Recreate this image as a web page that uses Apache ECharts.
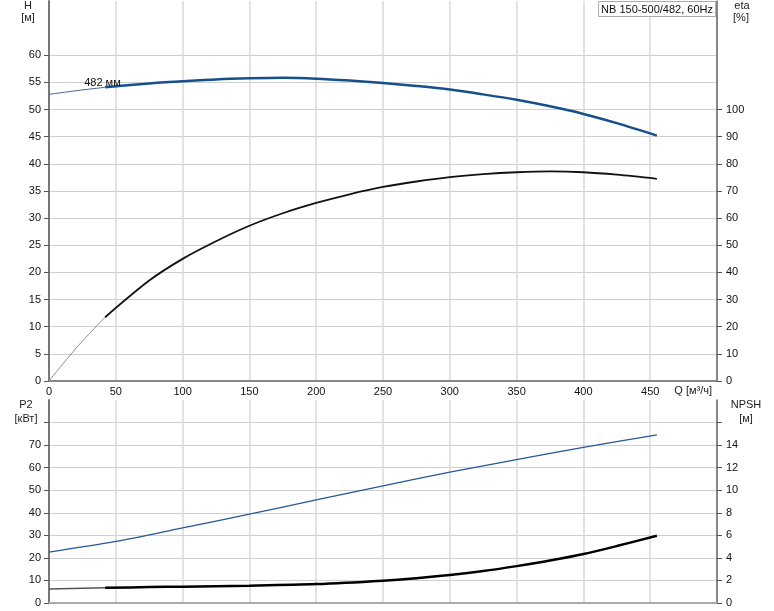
<!DOCTYPE html>
<html>
<head>
<meta charset="utf-8">
<script src="https://cdn.jsdelivr.net/npm/echarts@6/dist/echarts.min.js"></script>
<style>
html,body{margin:0;padding:0;background:#fff;}
#chart{width:774px;height:611px;}
</style>
</head>
<body>
<div id="chart"></div>
<script>
// ---- data ----
const title = 'NB 150-500/482, 60Hz';
const curveLabel = '482 мм';
// H curve [Q, H] (thin = extrapolated start, thick = operating range)
const hThinQ = [0, 21, 42];
const hThinV = [52.8, 53.5, 54.1];
const hQ = [42, 75, 100, 125, 150, 175, 200, 225, 250, 275, 300, 325, 350, 375, 400, 425, 455];
const hV = [54.1, 54.8, 55.2, 55.55, 55.75, 55.85, 55.7, 55.35, 54.9, 54.35, 53.7, 52.8, 51.8, 50.6, 49.2, 47.5, 45.2];
// eta curve [Q, %]
const etaThinQ = [0, 21, 42];
const etaThinV = [0, 12.5, 23.5];
const etaQ = [42, 75, 100, 125, 150, 175, 200, 225, 250, 275, 300, 325, 350, 375, 400, 425, 455];
const etaV = [23.5, 37.0, 45, 51.5, 57.2, 61.8, 65.6, 68.8, 71.5, 73.5, 75.1, 76.2, 76.9, 77.2, 76.9, 76.0, 74.5];
// P2 curve [Q, kW]
const p2Q = [0, 50, 100, 150, 200, 250, 300, 350, 400, 455];
const p2V = [22.6, 27.3, 33.3, 39.4, 45.7, 51.9, 58.0, 63.6, 69.0, 74.5];
// NPSH curve [Q, m]
const npshThinQ = [0, 42];
const npshThinV = [1.25, 1.35];
const npshQ = [42, 75, 100, 150, 200, 250, 275, 300, 325, 350, 375, 400, 425, 455];
const npshV = [1.35, 1.41, 1.45, 1.54, 1.68, 1.98, 2.2, 2.48, 2.83, 3.27, 3.76, 4.34, 5.05, 5.96];
// tick labels
const qTicks = [0, 50, 100, 150, 200, 250, 300, 350, 400, 450];
const hTicks = [0, 5, 10, 15, 20, 25, 30, 35, 40, 45, 50, 55, 60];
const etaTicks = [0, 10, 20, 30, 40, 50, 60, 70, 80, 90, 100];
const p2Ticks = [0, 10, 20, 30, 40, 50, 60, 70];
const p2TickMarks = [0, 10, 20, 30, 40, 50, 60, 70, 80];
const npshTicks = [0, 2, 4, 6, 8, 10, 12, 14];
const npshTickMarks = [0, 2, 4, 6, 8, 10, 12, 14, 16];

const zip = (a, b) => a.map((x, i) => [x, b[i]]);
const FONT = '"Liberation Sans", Arial, sans-serif';
const txt = { fontFamily: FONT, fontSize: 11, color: '#111' };

const chart = echarts.init(document.getElementById('chart'), null, { renderer: 'canvas' });

const xCommon = {
  type: 'value', min: 0, max: 500, interval: 50,
  axisTick: { show: false },
  splitLine: { show: true, lineStyle: { color: '#d9d9d9', width: 1.5 } }
};
const vSplit = { show: true, lineStyle: { color: '#cfcfcf', width: 1 } };
const line = (xi, yi, qs, vs, color, width) => ({
  type: 'line', xAxisIndex: xi, yAxisIndex: yi, data: zip(qs, vs),
  smooth: 0.3, showSymbol: false, silent: true,
  lineStyle: { color: color, width: width }
});

const hSeries = line(0, 0, hQ, hV, '#15508c', 2.5);
hSeries.markPoint = {
  symbol: 'rect', symbolSize: 1, itemStyle: { color: 'rgba(0,0,0,0)' },
  label: { show: true, position: 'inside', formatter: curveLabel, fontFamily: FONT, fontSize: 11, color: '#111' },
  data: [{ coord: [40, 54.85] }]
};

chart.setOption({
  animation: false,
  title: {
    text: title, right: 58, top: 1,
    padding: [3, 3, 2, 3],
    borderColor: '#aaa', borderWidth: 1, backgroundColor: '#fff',
    textStyle: { fontFamily: FONT, fontSize: 11, fontWeight: 'normal', color: '#111' }
  },
  grid: [
    { left: 49, right: 57, top: 1, height: 380 },
    { left: 49, right: 57, top: 400, height: 203 }
  ],
  xAxis: [
    Object.assign({}, xCommon, {
      gridIndex: 0,
      axisLine: { show: true, lineStyle: { color: '#888', width: 2 } },
      axisLabel: Object.assign({ customValues: qTicks, margin: 5 }, txt)
    }),
    Object.assign({}, xCommon, {
      gridIndex: 1,
      axisLine: { show: true, lineStyle: { color: '#aaa', width: 2 } },
      axisLabel: { show: false }
    })
  ],
  yAxis: [
    {
      type: 'value', gridIndex: 0, min: 0, max: 70, interval: 5, position: 'left',
      axisLine: { show: true, lineStyle: { color: '#777', width: 2 } },
      axisTick: { show: true, length: 5, customValues: hTicks, lineStyle: { color: '#555' } },
      axisLabel: Object.assign({ customValues: hTicks, margin: 8 }, txt),
      splitLine: vSplit
    },
    {
      type: 'value', gridIndex: 0, min: 0, max: 140, interval: 10, position: 'right',
      axisLine: { show: true, lineStyle: { color: '#666', width: 1.5 } },
      axisTick: { show: true, length: 5, customValues: etaTicks, lineStyle: { color: '#555' } },
      axisLabel: Object.assign({ customValues: etaTicks, margin: 9 }, txt),
      splitLine: { show: false }
    },
    {
      type: 'value', gridIndex: 1, min: 0, max: 90, interval: 10, position: 'left',
      axisLine: { show: true, lineStyle: { color: '#777', width: 2 } },
      axisTick: { show: true, length: 5, customValues: p2TickMarks, lineStyle: { color: '#555' } },
      axisLabel: Object.assign({ customValues: p2Ticks, margin: 8 }, txt),
      splitLine: vSplit
    },
    {
      type: 'value', gridIndex: 1, min: 0, max: 18, interval: 2, position: 'right',
      axisLine: { show: true, lineStyle: { color: '#666', width: 1.5 } },
      axisTick: { show: true, length: 5, customValues: npshTickMarks, lineStyle: { color: '#555' } },
      axisLabel: Object.assign({ customValues: npshTicks, margin: 9 }, txt),
      splitLine: { show: false }
    }
  ],
  series: [
    line(0, 0, hThinQ, hThinV, '#3a6296', 1),
    hSeries,
    line(0, 1, etaThinQ, etaThinV, '#8a8a8a', 1),
    line(0, 1, etaQ, etaV, '#111', 1.8),
    line(1, 2, p2Q, p2V, '#25589a', 1.3),
    line(1, 3, npshThinQ, npshThinV, '#555', 1.5),
    line(1, 3, npshQ, npshV, '#000', 2.5)
  ],
  graphic: [
    { type: 'text', x: 28, y: 0, style: { text: 'H', textAlign: 'center', font: '11px ' + FONT, fill: '#222' } },
    { type: 'text', x: 28, y: 12, style: { text: '[м]', textAlign: 'center', font: '11px ' + FONT, fill: '#222' } },
    { type: 'text', x: 742, y: 0, style: { text: 'eta', textAlign: 'center', font: '11px ' + FONT, fill: '#222' } },
    { type: 'text', x: 741, y: 12, style: { text: '[%]', textAlign: 'center', font: '11px ' + FONT, fill: '#222' } },
    { type: 'text', x: 26, y: 399, style: { text: 'P2', textAlign: 'center', font: '11px ' + FONT, fill: '#222' } },
    { type: 'text', x: 26, y: 413, style: { text: '[кВт]', textAlign: 'center', font: '11px ' + FONT, fill: '#222' } },
    { type: 'text', x: 746, y: 399, style: { text: 'NPSH', textAlign: 'center', font: '11px ' + FONT, fill: '#222' } },
    { type: 'text', x: 746, y: 413, style: { text: '[м]', textAlign: 'center', font: '11px ' + FONT, fill: '#222' } },
    { type: 'text', x: 712, y: 385, style: { text: 'Q [м³/ч]', textAlign: 'right', font: '11px ' + FONT, fill: '#222' } }
  ]
});
</script>
</body>
</html>
